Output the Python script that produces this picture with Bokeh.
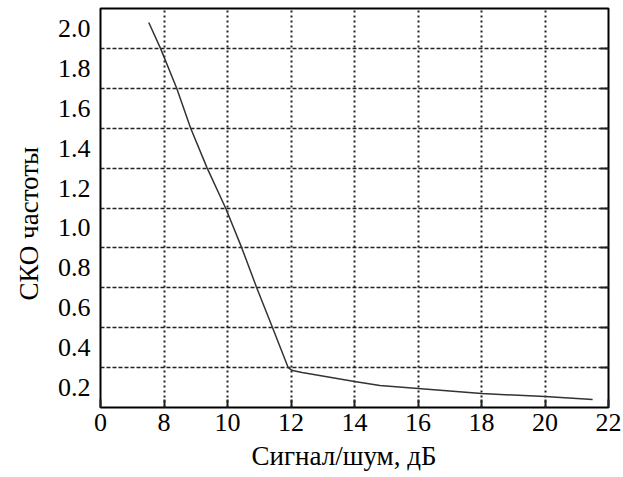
from bokeh.plotting import figure
from bokeh.models import FixedTicker, LinearAxis, Range1d, Title
from bokeh.embed import file_html
from bokeh.resources import INLINE

# Frequency RMS error versus signal-to-noise ratio
snr_db = [7.52, 7.89, 8.40, 8.84, 9.36, 9.94, 10.45, 10.92, 11.42, 11.91, 12.05, 12.35,
          14.0, 14.8, 16.0, 18.0, 20.0, 21.5]
sko = [2.03, 1.90, 1.70, 1.50, 1.30, 1.10, 0.90, 0.70, 0.50, 0.30, 0.285, 0.275,
       0.23, 0.21, 0.195, 0.17, 0.155, 0.14]

x_ticks = [6, 8, 10, 12, 14, 16, 18, 20, 22]
x_tick_labels = ["0", "8", "10", "12", "14", "16", "18", "20", "22"]
y_ticks = [0.2, 0.4, 0.6, 0.8, 1.0, 1.2, 1.4, 1.6, 1.8, 2.0]
y_tick_labels = ["0.2", "0.4", "0.6", "0.8", "1.0", "1.2", "1.4", "1.6", "1.8", "2.0"]
y_grid = [0.3, 0.5, 0.7, 0.9, 1.1, 1.3, 1.5, 1.7, 1.9]

FONT = "Liberation Serif"

p = figure(width=623, height=477, output_backend="svg", toolbar_location=None,
           x_range=Range1d(6, 22), y_range=Range1d(0.1, 2.1),
           min_border_left=100, min_border_right=15, min_border_top=8, min_border_bottom=70)
p.background_fill_color = "white"
p.border_fill_color = "white"
p.outline_line_color = "black"
p.outline_line_width = 2

# bottom axis
xa = p.xaxis[0]
xa.ticker = FixedTicker(ticks=x_ticks)
xa.major_label_overrides = {t: s for t, s in zip(x_ticks, x_tick_labels)}

# left axis
ya = p.yaxis[0]
ya.ticker = FixedTicker(ticks=y_ticks)
ya.major_label_overrides = {t: s for t, s in zip(y_ticks, y_tick_labels)}

for ax in (xa, ya):
    ax.axis_line_color = None
    ax.minor_tick_line_color = None
    ax.major_tick_out = 0
    ax.major_label_text_font = FONT
    ax.major_label_text_font_size = "26px"
    ax.major_label_text_color = "black"

xa.major_tick_in = 8
xa.major_tick_line_color = "#222222"
xa.major_tick_line_width = 2
xa.major_label_standoff = 6
ya.major_tick_in = 0
ya.major_tick_line_color = None
ya.major_label_standoff = 10

# axis titles, placed off-centre
x_title = Title(text="Сигнал/шум, дБ", align="left", offset=151, standoff=10,
                text_font=FONT, text_font_size="27px", text_font_style="normal",
                text_color="black")
p.add_layout(x_title, "below")
y_title = Title(text="СКО частоты", align="left", offset=107, standoff=22,
                text_font=FONT, text_font_size="27px", text_font_style="normal",
                text_color="black")
p.add_layout(y_title, "left")

# short inner ticks along the right edge at the grid rows
ra = LinearAxis(ticker=FixedTicker(ticks=y_grid))
ra.major_label_overrides = {t: "" for t in y_grid}
ra.major_label_text_font_size = "1px"
ra.axis_line_color = None
ra.minor_tick_line_color = None
ra.major_tick_out = 0
ra.major_tick_in = 8
ra.major_tick_line_color = "#222222"
ra.major_tick_line_width = 2
p.add_layout(ra, "right")

# dashed grid
p.xgrid.ticker = FixedTicker(ticks=x_ticks[1:-1])
p.xgrid.grid_line_color = "#222222"
p.xgrid.grid_line_width = 2
p.xgrid.grid_line_dash = "2 3"
p.ygrid.ticker = FixedTicker(ticks=y_grid)
p.ygrid.grid_line_color = "#222222"
p.ygrid.grid_line_width = 1.5
p.ygrid.grid_line_dash = "4 2"

p.line(snr_db, sko, line_color="#333333", line_width=1.5)

open("out.html", "w").write(file_html(p, INLINE))
